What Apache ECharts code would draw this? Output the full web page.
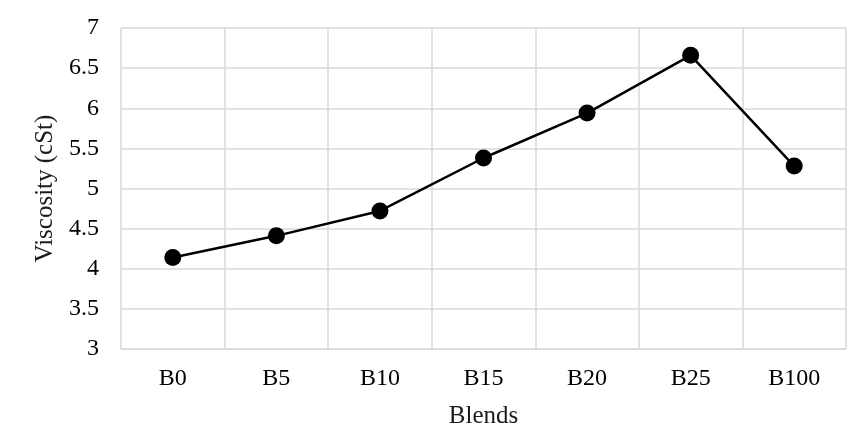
<!DOCTYPE html>
<html>
<head>
<meta charset="utf-8">
<script src="https://cdn.jsdelivr.net/npm/echarts@6/dist/echarts.min.js"></script>
<style>
  html, body { margin: 0; padding: 0; background: #fff; }
  #chart { width: 850px; height: 435px; }
</style>
</head>
<body>
<div id="chart"></div>
<script>
const blends = ['B0', 'B5', 'B10', 'B15', 'B20', 'B25', 'B100']
const viscosity = [4.14, 4.41, 4.72, 5.38, 5.94, 6.66, 5.28]

const font = 'Liberation Serif, Times New Roman, serif'

const chart = echarts.init(document.getElementById('chart'))

chart.setOption({
  animation: false,
  grid: {
    left: 121,
    right: 4,
    top: 28,
    bottom: 86
  },
  xAxis: {
    type: 'category',
    data: blends,
    boundaryGap: true,
    name: 'Blends',
    nameLocation: 'middle',
    nameGap: 55,
    nameTextStyle: { fontFamily: font, fontSize: 25, color: '#1a1a1a' },
    axisLine: { lineStyle: { color: '#d9d9d9', width: 1.5 } },
    axisTick: { show: false },
    axisLabel: { fontFamily: font, fontSize: 24, color: '#000', margin: 18 },
    splitLine: { show: true, lineStyle: { color: '#d9d9d9', width: 1.5 } }
  },
  yAxis: {
    type: 'value',
    min: 3,
    max: 7,
    interval: 0.5,
    name: 'Viscosity (cSt)',
    nameLocation: 'middle',
    nameGap: 57,
    nameTextStyle: { fontFamily: font, fontSize: 25, color: '#1a1a1a' },
    axisLine: { show: false },
    axisTick: { show: false },
    axisLabel: { fontFamily: font, fontSize: 24, color: '#000', margin: 22 },
    splitLine: { lineStyle: { color: '#d9d9d9', width: 1.5 } }
  },
  series: [
    {
      type: 'line',
      data: viscosity,
      symbol: 'circle',
      symbolSize: 17,
      lineStyle: { color: '#000', width: 2.5 },
      itemStyle: { color: '#000' }
    }
  ]
})
</script>
</body>
</html>
